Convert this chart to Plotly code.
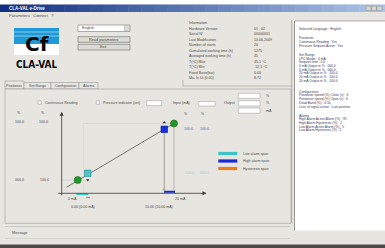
import plotly.graph_objects as go

W, H = 385, 248

# ---------------- data ----------------
LINE_X = [4, 100]
LINE_Y = [-13, 101]
POSITION_X = [14, 100]
POSITION_Y = [0, 101]
LOW_ALARM_X = [23]
LOW_ALARM_Y = [12]
HIGH_ALARM_X = [91.3]
HIGH_ALARM_Y = [90.5]
LOW_SPAN_X = [13, 23.5]
LOW_SPAN_Y = [-25.5, -25.5]
HIGH_SPAN_X = [91.3, 101]
HIGH_SPAN_Y = [-21, -21]
HYST_LOW_X = [21.5, 25]
HYST_LOW_Y = [-31, -31]
HYST_HIGH_X = [89.5, 92.5]
HYST_HIGH_Y = [-16.6, -16.6]
X_TICK_LABELS = ["0 mA", "20 mA"]
X_TICK_POS = [9.6, 106]
SPAN_LABELS = ["0.00 (0.00 mA)", "10.00 (10.00 mA)"]
SPAN_LABEL_POS = [19, 86.5]
SERIES_NAMES = ["Low alarm span", "High alarm span", "Hysteresis span"]
SERIES_COLORS = ["#3cc4c4", "#1428d8", "#f07a20"]
LEFT_TOP_VALUES = ["100.0", "100.0"]
LEFT_BOTTOM_VALUES = ["000.0", "100.0"]
RIGHT_TOP_VALUES = ["100.0", "100.0"]
RIGHT_BOTTOM_VALUES = ["000.0", "000.0"]

TABS = ["Positioner", "Set Range", "Configuration", "Alarms"]
INFO_LABELS = ["Information", "Hardware Version", "Serial N°", "Last Modification",
               "Number of starts", "Cumulated working time (h)",
               "Averaged working time (h)", "T(°C) Max", "T(°C) Min",
               "Fixed Base(bar)", "Ma. In Ui (0.00)"]
INFO_VALUES = ["", "01 . 02", "00000001", "10.06.2009", "26", "1275", "45",
               "45.1 °C", "-12.1 °C", "0.00", "8.72"]
RIGHT_TEXT = [
    (29.3, "Selected Language : English"),
    (38.3, "Positioner"), (42.0, "Continuous Reading : Yes"),
    (45.7, "Pressure Setpoint Active : Yes"),
    (55.0, "Set Range"), (58.7, "LPC Model : 4 mA"), (62.3, "Setpoint limit : 0.0"),
    (66.0, "0 mA Output in % : 000.0"), (69.7, "4 mA Output in % : 000.0"),
    (73.3, "20 mA Output in % : 100.0"), (77.0, "20 mA Output in % : 100.0"),
    (80.7, "20 mA Output in % : 100.0"),
    (91.7, "Configuration"), (95.4, "Positioner speed (%) Close (s) : 6"),
    (99.1, "Positioner speed (%) Open (s) : 6"), (102.8, "Dead Band (%) : 0.50"),
    (106.5, "Loss of signal action : Last position"),
    (115.5, "Alarms"), (119.2, "High Alarm Active Alarm (%) : 95"),
    (122.9, "High Alarm Hysteresis (%) : 2"), (126.6, "Low Alarm Active Alarm (%) : 5"),
    (130.3, "Low Alarm Hysteresis (%) : 2"),
]

# ---------------- helpers ----------------
FONT = "Liberation Sans"
TXT = "#4a4a4a"
BG = "#e7e5df"
shapes, annots = [], []


def px(x):
    return x / W


def py(y):
    return 1 - y / H


def rect(x0, y0, x1, y1, fill=None, line=None, lw=0.8):
    shapes.append(dict(type="rect", xref="paper", yref="paper",
                       x0=px(x0), x1=px(x1), y0=py(y1), y1=py(y0),
                       fillcolor=fill if fill else "rgba(0,0,0,0)",
                       line=dict(color=line if line else "rgba(0,0,0,0)", width=lw if line else 0),
                       layer="below"))


def seg(x0, y0, x1, y1, color="#888", lw=0.8):
    shapes.append(dict(type="line", xref="paper", yref="paper",
                       x0=px(x0), x1=px(x1), y0=py(y0), y1=py(y1),
                       line=dict(color=color, width=lw), layer="below"))


def text(x, y, s, size=4, color=TXT, anchor="left", bold=False, family=FONT):
    annots.append(dict(x=px(x), y=py(y), xref="paper", yref="paper", text=("<b>%s</b>" % s) if bold else s,
                       showarrow=False, xanchor=anchor, yanchor="middle",
                       font=dict(size=size, color=color, family=family)))


def dtext(x, y, s, size=4, color=TXT, anchor="center"):
    annots.append(dict(x=x, y=y, xref="x", yref="y", text=s, showarrow=False,
                       xanchor=anchor, yanchor="middle",
                       font=dict(size=size, color=color, family=FONT)))


# ---------------- window chrome ----------------
rect(0, 0, W, 4.5, fill="#ffffff")
n = 30
c0, c1 = (18, 48, 130), (170, 196, 232)
for i in range(n):
    t = i / (n - 1)
    col = "rgb(%d,%d,%d)" % tuple(int(c0[k] + (c1[k] - c0[k]) * t) for k in range(3))
    rect(W * i / n, 4.5, W * (i + 1) / n + 0.5, 12, fill=col)
text(7, 8.3, "CLA-VAL e-Drive", size=4.5, color="#ffffff", bold=True)
for bx in (366, 371.5, 377):
    rect(bx, 6.2, bx + 5, 10.6, fill="#d8d6d0", line="#8a8a8a", lw=0.5)
text(7, 15.2, "Parameters   Connect   ?", size=4)

# logo
rect(14, 28, 59, 44, fill="#1e9ad6")
seg(14, 32, 59, 32, color="#9fd4f0", lw=0.8)
seg(14, 36, 59, 36, color="#9fd4f0", lw=0.8)
rect(14, 44, 59, 55, fill="#ffffff")
text(36.5, 43.5, "Cf", size=20, color="#0a0a0a", anchor="center", bold=True, family="DejaVu Sans")
text(36.5, 64, "CLA-VAL", size=10, color="#0a0a0a", anchor="center", bold=True,
     family="DejaVu Sans Condensed, Liberation Sans Narrow, Liberation Sans")

# language + buttons
rect(78, 25, 130, 31.5, fill="#ffffff", line="#7a7a7a", lw=0.6)
text(80, 28.3, "English", size=3.8)
rect(124.5, 25.6, 129.5, 31, fill="#dcdad4", line="#9a9a9a", lw=0.4)
rect(78, 36.7, 130, 42.3, fill="#dcdad4", line="#6a6a6a", lw=0.6)
text(104, 39.5, "Read parameters", size=3.8, anchor="center")
rect(78, 44.3, 130, 50, fill="#dcdad4", line="#6a6a6a", lw=0.6)
text(104, 47.2, "Exit", size=3.8, anchor="center")

# info group
seg(183, 80, 183, 86, color="#9a9a9a", lw=0.6)
seg(183, 86, 291.7, 86, color="#9a9a9a", lw=0.6)
seg(291.7, 20, 291.7, 223, color="#8a8a8a", lw=0.6)
for i, (lab, val) in enumerate(zip(INFO_LABELS, INFO_VALUES)):
    yy = 23.3 + i * 5.5
    text(186.5, yy, lab, size=3.6)
    if val:
        text(251.5, yy, val, size=3.6)

# right white panel
rect(295, 21, 385, 230.5, fill="#ffffff")
seg(294.5, 21, 294.5, 230.5, color="#808080", lw=0.8)
seg(294.5, 21, 385, 21, color="#808080", lw=0.6)
for yy, s in RIGHT_TEXT:
    text(296.8, yy, s, size=3.3, color="#3a3a5a")

# tabs
tab_x = [(5, 24), (24, 51), (51, 79), (79, 98)]
for i, ((a, b), lab) in enumerate(zip(tab_x, TABS)):
    top = 81 if i == 0 else 82.5
    rect(a, top, b, 89, fill=BG, line="#8a8a8a", lw=0.5)
    text((a + b) / 2, 85.7, lab, size=3.6, anchor="center")
rect(5, 89, 291, 223.3, fill=BG, line="#9a9a9a", lw=0.6)

# controls row
rect(38, 100.8, 41.2, 104.2, fill="#ffffff", line="#7a7a7a", lw=0.4)
text(43, 102.6, "Continuous Reading", size=3.6)
rect(96.3, 100.8, 99.5, 104.2, fill="#ffffff", line="#7a7a7a", lw=0.4)
text(101.5, 102.6, "Pressure indicator (set)", size=3.6)
rect(146.7, 100.7, 161.7, 105.7, fill="#ffffff", line="#9a9a9a", lw=0.5)
text(170.5, 102.6, "Input (mA)", size=3.6)
rect(198.3, 101.5, 215, 106, fill="#ffffff", line="#9a9a9a", lw=0.5)
text(222, 102.8, "Output", size=3.6)
for (a, b), u in zip([(93.3, 98.3), (100.7, 106), (108, 113.3)], ["%", "%", "mA"]):
    rect(238.3, a, 260, b, fill="#ffffff", line="#9a9a9a", lw=0.5)
    text(263.5, (a + b) / 2, u, size=3.6)

# left / right value labels
text(18.5, 113.3, "%", size=3.6, anchor="center")
text(43, 113.3, "%", size=3.6, anchor="center")
text(19, 122.5, LEFT_TOP_VALUES[0], size=3.6, anchor="center")
text(43.5, 122.5, LEFT_TOP_VALUES[1], size=3.6, anchor="center")
text(19, 179.5, LEFT_BOTTOM_VALUES[0], size=3.6, anchor="center")
text(44, 179.5, LEFT_BOTTOM_VALUES[1], size=3.6, anchor="center")
text(182, 114, "%", size=3.6)
text(199, 114, "%", size=3.6)
text(181.7, 129, RIGHT_TOP_VALUES[0], size=3.6, color="#5a5ad0")
text(198.3, 129, RIGHT_TOP_VALUES[1], size=3.6, color="#5a5ad0")
text(183, 173.3, RIGHT_BOTTOM_VALUES[0], size=3.6, color="#8fd8c8")
text(197.7, 173.3, RIGHT_BOTTOM_VALUES[1], size=3.6, color="#8fd8c8")

# legend
for i, (name, col) in enumerate(zip(SERIES_NAMES, SERIES_COLORS)):
    yy = 153.5 + i * 7.5
    rect(218.3, yy - 1.6, 237.3, yy + 1.6, fill=col)
    text(240.7, yy, name, size=3.6)

# message area
seg(5, 226.5, 290, 226.5, color="#b8b8b8", lw=0.6)
text(10, 232.7, "Message", size=3.8)
seg(5, 238.5, 290, 238.5, color="#c8c8c8", lw=0.6)
rect(0, 244.5, W, H, fill="#4a4a4a")

# ---------------- chart (data coordinates) ----------------
fig = go.Figure()
XAX = -23.75  # y value of the horizontal axis line
fig.add_trace(go.Scatter(x=[19, 100], y=[101, 101], mode="lines",
                         line=dict(color="#cfcfcf", width=0.7), hoverinfo="skip"))
fig.add_trace(go.Scatter(x=[0, 14], y=[0, 0], mode="lines",
                         line=dict(color="#cfcfcf", width=0.7), hoverinfo="skip"))
fig.add_trace(go.Scatter(x=[19, 19], y=[XAX, 101], mode="lines",
                         line=dict(color="#d4d4d4", width=0.7), hoverinfo="skip"))
fig.add_trace(go.Scatter(x=[HIGH_ALARM_X[0], HIGH_ALARM_X[0]], y=[HIGH_ALARM_Y[0], XAX], mode="lines",
                         line=dict(color="#8a8a8a", width=0.8), hoverinfo="skip"))
fig.add_trace(go.Scatter(x=[POSITION_X[1], POSITION_X[1]], y=[POSITION_Y[1], XAX], mode="lines",
                         line=dict(color="#a8a8a8", width=0.8), hoverinfo="skip"))
fig.add_trace(go.Scatter(x=LINE_X, y=LINE_Y, mode="lines",
                         line=dict(color="#6a6a6a", width=0.9), hoverinfo="skip"))
fig.add_trace(go.Scatter(x=LOW_SPAN_X, y=LOW_SPAN_Y, mode="lines",
                         line=dict(color=SERIES_COLORS[0], width=1.6), name=SERIES_NAMES[0]))
fig.add_trace(go.Scatter(x=HIGH_SPAN_X, y=HIGH_SPAN_Y, mode="lines",
                         line=dict(color=SERIES_COLORS[1], width=2), name=SERIES_NAMES[1]))
fig.add_trace(go.Scatter(x=HYST_LOW_X, y=HYST_LOW_Y, mode="lines",
                         line=dict(color="#e86060", width=1), name=SERIES_NAMES[2]))
fig.add_trace(go.Scatter(x=HYST_HIGH_X, y=HYST_HIGH_Y, mode="lines",
                         line=dict(color="#f0a040", width=1), name=SERIES_NAMES[2]))
fig.add_trace(go.Scatter(x=POSITION_X, y=POSITION_Y, mode="markers",
                         marker=dict(symbol="circle", size=7, color="#22982a",
                                     line=dict(color="#156a1a", width=0.6))))
fig.add_trace(go.Scatter(x=LOW_ALARM_X, y=LOW_ALARM_Y, mode="markers",
                         marker=dict(symbol="square", size=6.5, color="#48c6c6",
                                     line=dict(color="#2a8e8e", width=0.6))))
fig.add_trace(go.Scatter(x=HIGH_ALARM_X, y=HIGH_ALARM_Y, mode="markers",
                         marker=dict(symbol="square", size=6.5, color="#1430e0",
                                     line=dict(color="#0a1a90", width=0.6))))
fig.add_trace(go.Scatter(x=[LOW_ALARM_X[0]], y=[LOW_ALARM_Y[0] - 12], mode="markers",
                         marker=dict(symbol="triangle-down", size=3, color="#333333")))
fig.add_trace(go.Scatter(x=[HIGH_ALARM_X[0]], y=[HIGH_ALARM_Y[0] + 12], mode="markers",
                         marker=dict(symbol="triangle-up", size=3, color="#333333")))

annots.append(dict(x=129, y=XAX, ax=-4.7, ay=XAX, xref="x", yref="y", axref="x", ayref="y",
                   showarrow=True, arrowhead=2, arrowsize=1, arrowwidth=0.8,
                   arrowcolor="#3a3a3a", text=""))
annots.append(dict(x=-0.3, y=122, ax=-0.3, ay=-30, xref="x", yref="y", axref="x", ayref="y",
                   showarrow=True, arrowhead=2, arrowsize=1, arrowwidth=0.8,
                   arrowcolor="#3a3a3a", text=""))
for xv, s in zip(X_TICK_POS, X_TICK_LABELS):
    dtext(xv, -33.4, s, size=3.6)
for xv, s in zip(SPAN_LABEL_POS, SPAN_LABELS):
    dtext(xv, -47.7, s, size=3.6)

fig.update_layout(
    width=W, height=H, margin=dict(l=0, r=0, t=0, b=0),
    paper_bgcolor=BG, plot_bgcolor="rgba(0,0,0,0)", showlegend=False,
    xaxis=dict(range=[(0 - 62) / 1.12, (W - 62) / 1.12], domain=[0, 1], visible=False, fixedrange=True),
    yaxis=dict(range=[(180 - H) / 0.56, 180 / 0.56], domain=[0, 1], visible=False, fixedrange=True),
    shapes=shapes, annotations=annots,
)
fig.write_html("out.html", config={"displayModeBar": False},
               post_script="document.body.style.margin='0px';document.body.style.overflow='hidden';")
